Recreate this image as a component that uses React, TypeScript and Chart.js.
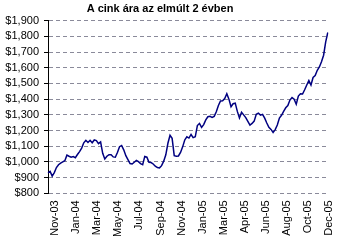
import React, { useEffect, useRef } from "react";
import { Chart, registerables } from "chart.js";

Chart.register(...registerables);

const TITLE = "A cink ára az elmúlt 2 évben";

const xTickLabels = [
  "Nov-03", "Jan-04", "Mar-04", "May-04", "Jul-04", "Sep-04", "Nov-04",
  "Jan-05", "Mar-05", "Apr-05", "Jun-05", "Aug-05", "Oct-05", "Dec-05",
];

const prices = [
  930, 940, 910, 932, 964, 982, 992, 1000, 1008, 1043,
  1036, 1030, 1034, 1027, 1047, 1066, 1088, 1122, 1138, 1124,
  1138, 1122, 1140, 1136, 1117, 1128, 1055, 1019, 1036, 1046,
  1046, 1032, 1030, 1060, 1097, 1105, 1077, 1040, 1015, 990,
  987, 998, 1009, 1002, 989, 982, 1035, 1030, 997, 996,
  987, 973, 964, 962, 976, 1005, 1045, 1119, 1170, 1150,
  1040, 1036, 1038, 1060, 1096, 1140, 1160, 1152, 1175, 1155,
  1160, 1232, 1245, 1220, 1238, 1268, 1288, 1291, 1284, 1290,
  1320, 1360, 1388, 1390, 1404, 1435, 1400, 1352, 1371, 1375,
  1322, 1280, 1316, 1300, 1282, 1258, 1235, 1245, 1260, 1303,
  1310, 1298, 1303, 1279, 1248, 1220, 1207, 1188, 1206, 1235,
  1280, 1297, 1322, 1345, 1359, 1394, 1410, 1400, 1368, 1420,
  1434, 1433, 1460, 1490, 1519, 1490, 1538, 1550, 1584, 1605,
  1638, 1680, 1765, 1825,
];

const FIRST_LABEL_INDEX = 3;
const LABEL_STEP = 10;

const categories: string[] = prices.map((_, i) => {
  const k = i - FIRST_LABEL_INDEX;
  if (k >= 0 && k % LABEL_STEP === 0) return xTickLabels[k / LABEL_STEP] ?? "";
  return "";
});

const Y_MIN = 800;
const Y_MAX = 1900;
const Y_STEP = 100;

export default function App() {
  const ref = useRef<HTMLCanvasElement | null>(null);

  useEffect(() => {
    if (!ref.current) return;
    const titlePlugin = {
      id: "customTitle",
      afterDraw(chart: any) {
        const ctx = chart.ctx;
        ctx.save();
        ctx.font = "bold 11px 'Liberation Sans', Arial, sans-serif";
        ctx.fillStyle = "#000";
        ctx.textAlign = "center";
        ctx.textBaseline = "middle";
        ctx.fillText(TITLE, 160, 9);
        ctx.restore();
      },
    };
    const bgPlugin = {
      id: "bg",
      beforeDraw(chart: any) {
        const ctx = chart.ctx;
        ctx.save();
        ctx.fillStyle = "#fff";
        ctx.fillRect(0, 0, chart.width, chart.height);
        ctx.restore();
      },
    };
    const chart = new Chart(ref.current, {
      type: "line",
      data: {
        labels: categories,
        datasets: [
          {
            data: prices,
            borderColor: "#000080",
            borderWidth: 1.5,
            pointRadius: 0,
            tension: 0,
            fill: false,
          },
        ],
      },
      options: {
        animation: false,
        responsive: false,
        devicePixelRatio: 1,
        layout: { padding: { left: 0, right: 15, top: 20.7, bottom: 0 } },
        plugins: {
          legend: { display: false },
          title: { display: false },
          tooltip: { enabled: false },
        },
        scales: {
          x: {
            type: "category",
            offset: false,
            grid: { display: false, drawTicks: false },
            border: { display: false },
            ticks: {
              autoSkip: false,
              minRotation: 90,
              maxRotation: 90,
              padding: 7,
              labelOffset: 1,
              color: "#000",
              font: { family: "'Liberation Sans', Arial, sans-serif", size: 11 },
              callback: (_v: any, i: number) => categories[i],
            },
            afterFit: (s: any) => {
              s.height = 246 - 193.3;
            },
          },
          y: {
            min: Y_MIN,
            max: Y_MAX,
            grid: {
              color: "#8a8a9a",
              tickColor: "#000",
              tickLength: 4,
              tickBorderDash: [1, 0],
              lineWidth: 1,
            },
            border: { display: true, color: "#000", width: 1, dash: [4, 3] },
            ticks: {
              stepSize: Y_STEP,
              autoSkip: false,
              padding: 5,
              color: "#000",
              font: { family: "'Liberation Sans', Arial, sans-serif", size: 11 },
              callback: (v: any) => "$" + Number(v).toLocaleString("en-US"),
            },
            afterFit: (s: any) => {
              s.width = 48;
            },
          },
        },
      },
      plugins: [bgPlugin, titlePlugin],
    });
    return () => chart.destroy();
  }, []);

  return (
    <div style={{ position: "fixed", left: 0, top: 0, width: 348, height: 246, background: "#fff" }}>
      <canvas ref={ref} width={348} height={246} style={{ width: 348, height: 246 }} />
    </div>
  );
}
